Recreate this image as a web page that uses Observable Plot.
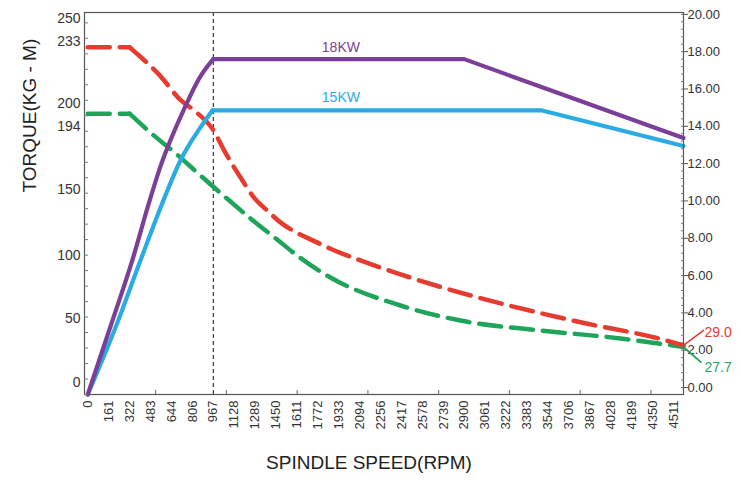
<!DOCTYPE html>
<html><head><meta charset="utf-8">
<script src="https://cdn.jsdelivr.net/npm/d3@7"></script>
<script src="https://cdn.jsdelivr.net/npm/@observablehq/plot@0.6"></script>
<style>
body{margin:0;background:#fff}
#chart{font-family:"Liberation Sans",Arial,sans-serif}
</style>
</head><body><div id="chart"></div>
<script>
// ---- data ----
const speedTicks = [0,161,322,483,644,806,967,1128,1289,1450,1611,1772,1933,2094,2256,2417,2578,2739,2900,3061,3222,3383,3544,3706,3867,4028,4189,4350,4511];
const speedMinorTicks = [523,1068,1613,2158,2703,3248,3793,4338];
const kwTicks = [0,2,4,6,8,10,12,14,16,18,20];
const baseSpeed = 967;     // end of the rising (constant torque) power section
const torqueKnee = 322;    // end of the flat torque section

// power curves (kW, right axis)
const rpm18 = [0,175,352,468,560,737,868,967,2900,4589];
const kw18  = [-0.38,3.27,7.02,9.81,11.85,14.85,16.68,17.6,17.6,13.37];
const rpm15 = [0,213,406,583,714,868,960,3500,4589];
const kw15  = [-0.38,3.2,6.81,10.03,12.17,13.94,14.85,14.85,12.94];

// torque curves (KG-M, left axis)
const rpmT233 = [0,322,367,560,714,817,971,1048,1176,1279,1382,1484,1613,1741,1870,2100,2409,2717,3180,3796,4412,4589];
const torque233 = [233,233,230,216,202,196,184,173,157,144,134,125,117,111,105,96,85,75,62,47,34,29.0];
const rpmT194 = [0,322,483,676,869,1061,1253,1446,1638,1869,2409,2871,3488,4104,4589];
const torque194 = [194,194,183,171,158,144,128,113,98,82.5,60.3,48.4,40.6,34.4,27.7];

// left (torque) axis: its tick values and where each sits on the kW axis
const torqueTicks = [0,50,100,150,200,250];
const torqueTickKw = [0.27,3.70,7.08,10.62,15.23,19.79];
const torqueExtra = [233,194];
const powerLabelRpm = 1950;

// ---- build ----
const torqueToKw = d3.scaleLinear().domain(torqueTicks).range(torqueTickKw);
const p18 = rpm18.map((r,i)=>({rpm:r, kw:kw18[i]}));
const p15 = rpm15.map((r,i)=>({rpm:r, kw:kw15[i]}));
const t233 = rpmT233.map((r,i)=>({rpm:r, torque:torque233[i], pos:torqueToKw(torque233[i])}));
const t194 = rpmT194.map((r,i)=>({rpm:r, torque:torque194[i], pos:torqueToKw(torque194[i])}));
const rise = (rows, knee) => rows.filter(d => d.rpm <= knee + 1);
const rest = (rows, knee) => rows.filter(d => d.rpm >= knee - 10);

const PURPLE="#7B3F98", CYAN="#2AACE2", RED="#E63B2E", GREEN="#1FA55A", TXT="#333";
const leftMinor = d3.range(-0.375, 20.1, 0.83);
const rightMinor = d3.range(0, 20.01, 0.4);
const lineShape = {draw(ctx, l){ ctx.moveTo(0,0); ctx.lineTo(0,-l); }};
const endRed = t233[t233.length-1], endGreen = t194[t194.length-1];
const fmt1 = d3.format(".1f");
const dash = {strokeWidth:4.5, strokeDasharray:"22,10"};

const chart = Plot.plot({
  width: 741, height: 482,
  marginLeft: 84, marginRight: 58, marginTop: 12, marginBottom: 88,
  style: {fontFamily: "Liberation Sans, Arial, sans-serif", fontSize: "13px", color: TXT, background: "#fff"},
  x: {domain: [-25, 4589], label: null},
  y: {domain: [-0.375, 20.1], label: null},
  marks: [
    Plot.ruleX([baseSpeed], {stroke:"#111", strokeWidth:1, strokeDasharray:"4,3"}),
    // torque (dashed): flat part, then smooth decline
    Plot.line(rise(t194, torqueKnee), {x:"rpm", y:"pos", stroke:GREEN, ...dash}),
    Plot.line(rest(t194, torqueKnee).filter(d=>d.rpm>=torqueKnee), {x:"rpm", y:"pos", stroke:GREEN, ...dash, curve:"monotone-x"}),
    Plot.line(rise(t233, torqueKnee), {x:"rpm", y:"pos", stroke:RED, ...dash}),
    Plot.line(rest(t233, torqueKnee).filter(d=>d.rpm>=torqueKnee), {x:"rpm", y:"pos", stroke:RED, ...dash, curve:"monotone-x"}),
    // power (solid): smooth rise, then straight segments
    Plot.line(rise(p15, baseSpeed), {x:"rpm", y:"kw", stroke:CYAN, strokeWidth:4.2, curve:"monotone-x"}),
    Plot.line(rest(p15, baseSpeed), {x:"rpm", y:"kw", stroke:CYAN, strokeWidth:4.2}),
    Plot.line(rise(p18, baseSpeed), {x:"rpm", y:"kw", stroke:PURPLE, strokeWidth:4.2, curve:"monotone-x"}),
    Plot.line(rest(p18, baseSpeed), {x:"rpm", y:"kw", stroke:PURPLE, strokeWidth:4.2}),
    Plot.frame({stroke:"#555", strokeWidth:1.2}),
    // x axis
    Plot.axisX(speedTicks, {anchor:"bottom", tickSize:0, tickPadding:6, tickRotate:-90, fontSize:13, tickFormat:d=>String(d), label:null}),
    Plot.axisX(speedMinorTicks, {anchor:"bottom", tickSize:4, dy:-4, tickFormat:()=>"", label:null, stroke:"#666"}),
    // right kW axis
    Plot.axisY(kwTicks, {anchor:"right", tickSize:4, tickPadding:0, fontSize:13, tickFormat:d3.format(".2f"), label:null, stroke:"#555"}),
    Plot.axisY(rightMinor, {anchor:"right", tickSize:3, dx:-3, tickFormat:()=>"", label:null, stroke:"#777"}),
    // left torque axis
    Plot.axisY(leftMinor, {anchor:"left", tickSize:4, dx:4, tickFormat:()=>"", label:null, stroke:"#777"}),
    Plot.text(torqueTicks, {y:d=>torqueToKw(d), text:d=>String(d), frameAnchor:"left", textAnchor:"end", dx:-4, fontSize:14, fill:TXT}),
    Plot.text([torqueExtra[0]], {y:d=>torqueToKw(d), text:d=>String(d), frameAnchor:"left", textAnchor:"end", dx:-4, dy:-6, fontSize:14, fill:TXT}),
    Plot.text([torqueExtra[1]], {y:d=>torqueToKw(d), text:d=>String(d), frameAnchor:"left", textAnchor:"end", dx:-4, dy:13, fontSize:14, fill:TXT}),
    // series labels
    Plot.text([{t:"18KW", v:d3.max(kw18)}], {x:()=>powerLabelRpm, y:"v", text:"t", dy:-12, fill:PURPLE, fontSize:14}),
    Plot.text([{t:"15KW", v:d3.max(kw15)}], {x:()=>powerLabelRpm, y:"v", text:"t", dy:-13, fill:CYAN, fontSize:14}),
    // end labels with leaders
    Plot.vector([endRed], {x:"rpm", y:"pos", length:25, rotate:53, anchor:"start", shape:lineShape, stroke:RED, strokeWidth:1.5}),
    Plot.vector([endGreen], {x:"rpm", y:"pos", length:23, rotate:131, anchor:"start", shape:lineShape, stroke:GREEN, strokeWidth:1.8}),
    Plot.text([endRed], {x:"rpm", y:"pos", text:d=>fmt1(d.torque), dx:21, dy:-13, textAnchor:"start", fill:RED, fontSize:14}),
    Plot.text([endGreen], {x:"rpm", y:"pos", text:d=>fmt1(d.torque), dx:21, dy:21, textAnchor:"start", fill:GREEN, fontSize:14}),
    // axis titles
    Plot.text(["TORQUE(KG - M)"], {text:d=>d, frameAnchor:"left", rotate:-90, dx:-55, dy:-11, fontSize:19, fill:"#222"}),
    Plot.text(["SPINDLE SPEED(RPM)"], {text:d=>d, frameAnchor:"bottom", dx:-15, dy:74, fontSize:19, fill:"#222"})
  ]
});
document.getElementById("chart").append(chart);
</script>
</body></html>
